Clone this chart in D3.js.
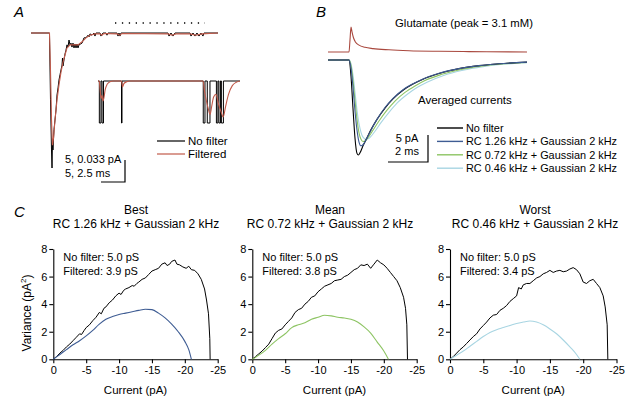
<!DOCTYPE html>
<html><head><meta charset="utf-8">
<script src="https://cdn.jsdelivr.net/npm/d3@7"></script>
<style>
html,body{margin:0;padding:0;background:#fff;}
svg{display:block;font-family:"Liberation Sans",Arial,sans-serif;}
</style></head>
<body>
<script>
// ---------- DATA ----------
// Panel A: main trace (time ms, current pA)
const aNoFilter = [[0,0],[3.85,0],[4.06,-15.2],[4.27,-26.6],[4.38,-30.7],[4.48,-24.3],[4.58,-26.6],[4.79,-22.0],[5.0,-19.8],[5.21,-17.5],[5.42,-14.1],[5.63,-12.5],[5.83,-10.7],[6.04,-9.5],[6.25,-8.4],[6.46,-7.3],[6.56,-5.7],[6.67,-7.5],[6.88,-6.1],[7.08,-4.8],[7.29,-3.9],[7.5,-2.7],[7.71,-3.2],[7.92,-1.6],[8.13,-2.7],[8.33,-2.3],[8.54,-3.2],[8.75,-2.3],[8.96,-3.4],[9.17,-2.5],[9.38,-3.4],[9.58,-2.5],[9.79,-3.4],[10.0,-2.7],[10.63,-2.3],[11.04,-1.1],[11.46,-1.1],[11.88,-0.5],[12.08,-0.9],[12.29,-0.2],[12.71,-0.5],[13.13,0],[13.33,-0.7],[13.54,0],[14.38,0],[14.58,-0.7],[15.0,0],[15.63,0],[15.83,-0.5],[16.04,0],[17.92,0],[18.13,-0.7],[18.33,0],[18.54,-0.7],[18.75,0],[28.54,0],[28.75,-0.7],[29.17,0],[29.58,-0.7],[30.0,0],[33.13,0],[33.33,-0.7],[33.75,0],[34.17,-0.7],[34.58,0],[35.0,-0.7],[35.42,0],[35.83,-0.7],[36.04,0],[38.96,0]];
const aFiltered = [[0,0],[3.85,0],[4.06,-8.4],[4.27,-19.6],[4.48,-25.5],[4.69,-23.9],[5.0,-19.8],[5.42,-15.2],[5.83,-11.8],[6.25,-8.9],[6.67,-6.6],[7.08,-5.0],[7.5,-3.4],[8.13,-2.7],[8.96,-2.7],[9.79,-2.7],[10.63,-2.0],[11.46,-1.1],[12.29,-0.5],[13.33,-0.2],[14.38,-0.2],[14.79,-0.5],[15.21,-0.1],[17.92,-0.2],[18.54,-0.5],[18.96,-0.1],[28.54,-0.2],[29.38,-0.5],[30.21,-0.2],[33.13,-0.2],[34.38,-0.5],[35.63,-0.2],[38.96,0]];
const aWindow = [17.5, 36.25];           // expanded window (ms, main trace)
// Inset: idealised openings (start, end ms), amplitude pA
const insetOpenings = [[0.14,0.31],[0.42,0.57],[2.45,2.5],[10.97,11.15],[11.39,11.67],[12.34,12.5],[12.6,12.76],[12.86,13.07]];
const insetAmp = -0.063;
const insetEnd = 14.8;
const insetFiltered = [[0,0],[0.12,0],[0.22,-0.012],[0.32,-0.026],[0.42,-0.022],[0.52,-0.03],[0.62,-0.025],[0.75,-0.013],[0.95,-0.005],[1.25,-0.001],[1.6,0],[2.45,0],[2.55,-0.009],[2.7,-0.004],[3.0,-0.001],[3.3,0],[10.95,0],[11.1,-0.015],[11.3,-0.03],[11.5,-0.042],[11.68,-0.05],[11.85,-0.038],[12.05,-0.024],[12.3,-0.02],[12.55,-0.034],[12.8,-0.045],[13.05,-0.054],[13.3,-0.038],[13.6,-0.02],[14.0,-0.007],[14.4,-0.002],[14.8,0]];
const aScale = {pA:5, ms:5, label1:"5, 0.033 pA", label2:"5, 2.5 ms"};

// Panel B: glutamate (mM) and averaged currents (pA) vs time (ms)
const glutamate = [[-1.05,0],[0,0],[0.05,1.5],[0.1,3.1],[0.15,2.5],[0.22,1.8],[0.32,1.25],[0.5,0.85],[0.8,0.58],[1.2,0.42],[2,0.27],[3,0.16],[4.5,0.09],[6,0.05],[8.9,0.0]];
const avgNoFilter = [[-1.05,0],[0,0],[0.1,-3],[0.2,-9],[0.3,-14.5],[0.4,-17.3],[0.47,-17.6],[0.55,-17.2],[0.7,-15.9],[0.9,-14.4],[1.1,-12.9],[1.4,-11.0],[1.8,-8.9],[2.2,-7.2],[2.7,-5.6],[3.2,-4.45],[3.7,-3.55],[4.5,-2.5],[5.5,-1.6],[6.5,-1.05],[7.5,-0.7],[8.9,-0.4]];
const avgRC126 = [[-1.05,0],[0,0],[0.1,-1.5],[0.2,-5],[0.3,-9.5],[0.4,-13],[0.5,-15.2],[0.6,-15.9],[0.7,-15.7],[0.85,-14.8],[1.1,-13.0],[1.4,-11.0],[1.8,-8.8],[2.2,-7.1],[2.7,-5.5],[3.2,-4.4],[3.7,-3.5],[4.5,-2.45],[5.5,-1.6],[6.5,-1.05],[7.5,-0.7],[8.9,-0.4]];
const avgRC072 = [[-1.05,0],[0,0],[0.1,-1],[0.2,-3.8],[0.3,-7.5],[0.4,-11],[0.5,-13.5],[0.6,-14.7],[0.7,-15.1],[0.8,-15.0],[0.95,-14.4],[1.2,-13.0],[1.5,-11.3],[1.9,-9.3],[2.3,-7.6],[2.8,-6.0],[3.3,-4.8],[3.8,-3.8],[4.6,-2.7],[5.6,-1.75],[6.6,-1.15],[7.6,-0.75],[8.9,-0.45]];
const avgRC046 = [[-1.05,0],[0,0],[0.1,-0.7],[0.2,-2.8],[0.3,-6],[0.4,-9.3],[0.5,-11.8],[0.6,-13.4],[0.7,-14.3],[0.85,-14.7],[1.0,-14.5],[1.3,-13.2],[1.6,-11.6],[2.0,-9.7],[2.4,-8.0],[2.9,-6.4],[3.4,-5.1],[3.9,-4.1],[4.7,-2.9],[5.7,-1.9],[6.7,-1.25],[7.7,-0.8],[8.9,-0.5]];
const bLegend = ["No filter","RC 1.26 kHz + Gaussian 2 kHz","RC 0.72 kHz + Gaussian 2 kHz","RC 0.46 kHz + Gaussian 2 kHz"];
const bScale = {pA:5, ms:2};

// Panel C: variance (pA^2) vs mean current (pA)
const cTitles = [["Best","RC 1.26 kHz + Gaussian 2 kHz"],["Mean","RC 0.72 kHz + Gaussian 2 kHz"],["Worst","RC 0.46 kHz + Gaussian 2 kHz"]];
const cNoFilterG = ["5.0","5.0","5.0"];
const cFilteredG = ["3.9","3.8","3.4"];
const cTicksX = [0,-5,-10,-15,-20,-25];
const cTicksY = [0,2,4,6,8];
const varNoFilter1 = [[0,0],[-0.5,0.2],[-1,0.45],[-1.5,0.65],[-2,0.9],[-2.5,1.1],[-3,1.35],[-3.5,1.6],[-4,1.85],[-4.3,1.8],[-4.7,2.1],[-5,2.3],[-5.5,2.5],[-6,2.8],[-6.5,3.05],[-7,3.4],[-7.3,3.3],[-7.7,3.7],[-8,3.8],[-8.5,4.1],[-9,4.3],[-9.5,4.6],[-10,4.8],[-10.3,4.7],[-10.7,5.0],[-11,5.1],[-11.5,5.2],[-12,5.35],[-12.3,5.3],[-12.7,5.5],[-13,5.6],[-13.5,5.8],[-14,5.9],[-14.5,6.15],[-15,6.4],[-15.5,6.5],[-16,6.6],[-16.5,6.9],[-17,7.0],[-17.3,6.8],[-17.7,6.9],[-18,7.1],[-18.5,7.2],[-18.8,6.9],[-19.2,6.85],[-19.7,6.7],[-20.2,6.6],[-20.6,6.75],[-21,6.5],[-21.5,6.45],[-22,6.2],[-22.5,5.8],[-23,5.1],[-23.3,4.3],[-23.6,3.3],[-23.8,1.5],[-23.85,0]];
const varFiltered1 = [[0,0],[-1,0.35],[-2,0.7],[-3,1.05],[-4,1.35],[-5,1.7],[-6,2.1],[-7,2.55],[-8,2.9],[-9,3.1],[-10,3.25],[-11,3.35],[-12,3.45],[-13,3.55],[-14,3.63],[-15,3.6],[-16,3.35],[-17,3.0],[-18,2.55],[-19,2.0],[-20,1.3],[-20.6,0.7],[-21,0]];
const varNoFilter2 = [[0,0],[-0.5,0.2],[-1,0.4],[-1.5,0.6],[-2,0.85],[-2.5,1.1],[-3,1.5],[-3.5,1.9],[-4,2.1],[-4.5,2.2],[-5,2.5],[-5.5,2.75],[-6,3.0],[-6.5,3.4],[-7,3.6],[-7.5,3.7],[-8,4.0],[-8.5,4.2],[-9,4.5],[-9.5,4.6],[-10,4.9],[-10.5,5.1],[-11,5.3],[-11.5,5.4],[-12,5.5],[-12.5,5.7],[-13,5.75],[-13.5,5.8],[-14,6.0],[-14.5,6.1],[-15,6.3],[-15.5,6.5],[-16,6.6],[-16.5,6.85],[-17,6.8],[-17.5,6.9],[-18,6.6],[-18.5,6.9],[-19,7.2],[-19.5,7.0],[-20,6.85],[-20.5,6.6],[-21,6.3],[-21.5,6.0],[-22,5.7],[-22.5,5.2],[-23,4.5],[-23.3,3.7],[-23.5,2.5],[-23.6,0]];
const varFiltered2 = [[0,0],[-1,0.3],[-2,0.65],[-3,1.1],[-4,1.5],[-5,1.85],[-6,2.3],[-7,2.5],[-8,2.65],[-9,2.9],[-10,3.05],[-11,3.2],[-12,3.15],[-13,3.05],[-14,3.0],[-15,2.9],[-16,2.7],[-17,2.35],[-18,1.9],[-19,1.25],[-20,0.6],[-20.7,0]];
const varNoFilter3 = [[0,0],[-0.5,0.2],[-1,0.45],[-1.5,0.7],[-2,0.9],[-2.5,1.15],[-3,1.4],[-3.5,1.65],[-4,1.85],[-4.5,2.2],[-5,2.45],[-5.5,2.7],[-6,3.0],[-6.5,3.2],[-7,3.25],[-7.5,3.55],[-8,3.7],[-8.5,3.9],[-9,4.2],[-9.5,4.4],[-10,4.6],[-10.3,5.2],[-10.7,5.1],[-11,5.4],[-11.5,5.5],[-12,5.5],[-12.5,5.7],[-13,5.9],[-13.5,6.0],[-14,6.2],[-14.5,6.3],[-15,6.45],[-15.5,6.3],[-16,6.4],[-16.5,6.45],[-17,6.35],[-17.5,6.4],[-18,6.55],[-18.5,6.65],[-19,6.5],[-19.5,6.2],[-20,5.6],[-20.5,5.5],[-21,5.7],[-21.5,5.8],[-22,5.5],[-22.5,5.2],[-23,4.6],[-23.3,3.8],[-23.6,2.5],[-23.7,0]];
const varFiltered3 = [[0,0],[-1,0.3],[-2,0.6],[-3,0.95],[-4,1.3],[-5,1.65],[-6,1.95],[-7,2.15],[-8,2.3],[-9,2.45],[-10,2.6],[-11,2.7],[-12,2.78],[-13,2.7],[-14,2.5],[-15,2.2],[-16,1.85],[-17,1.4],[-18,0.9],[-19,0.35],[-19.5,0]];

// ---------- STYLE ----------
const RED = "#c25a4a", GLU = "#a9483e";
const COLS = ["#000000","#3e5c93","#8dc463","#a8d5e2"];

const W = 644, H = 409;
const svg = d3.select("body").append("svg").attr("width", W).attr("height", H);

function txt(x, y, s, o = {}) {
  return svg.append("text").attr("x", x).attr("y", y)
    .attr("font-size", o.size || 12).attr("text-anchor", o.anchor || "start")
    .attr("font-style", o.italic ? "italic" : null)
    .attr("fill", "#000").text(s);
}

// ---------- PANEL A ----------
txt(14, 17, "A", {size: 15, italic: true});
const ax = d3.scaleLinear().domain([0, 38.96]).range([31, 218]);
const ay = d3.scaleLinear().domain([0, -30.7]).range([33, 168]);
const aPath = (data, sx, sy) => d3.line().x(d => sx(d[0])).y(d => sy(d[1]))(data);
svg.append("path").attr("d", aPath(aNoFilter, ax, ay)).attr("fill", "none").attr("stroke", "#000").attr("stroke-width", 1);
svg.append("path").attr("d", aPath(aFiltered, ax, ay)).attr("fill", "none").attr("stroke", RED).attr("stroke-width", 1.1);
// dotted window marker
svg.append("line").attr("x1", ax(aWindow[0])).attr("x2", ax(aWindow[1])).attr("y1", 23).attr("y2", 23)
  .attr("stroke", "#000").attr("stroke-width", 1.4).attr("stroke-dasharray", "1.3,5.6");
// inset
const ix = d3.scaleLinear().domain([0, insetEnd]).range([98, 240]);
const iy = d3.scaleLinear().domain([0, insetAmp]).range([81, 123]);
const insetSteps = [[0, 0]];
insetOpenings.forEach(([s, e]) => { insetSteps.push([s, 0], [s, insetAmp], [e, insetAmp], [e, 0]); });
insetSteps.push([insetEnd, 0]);
svg.append("path").attr("d", aPath(insetSteps, ix, iy)).attr("fill", "none").attr("stroke", "#000").attr("stroke-width", 1);
svg.append("path").attr("d", d3.line().x(d => ix(d[0])).y(d => iy(d[1])).curve(d3.curveMonotoneX)(insetFiltered))
  .attr("fill", "none").attr("stroke", RED).attr("stroke-width", 1.1);
// legend A
[["No filter", "#000"], ["Filtered", RED]].forEach((d, i) => {
  const y = 141 + i * 13;
  svg.append("line").attr("x1", 157).attr("x2", 185).attr("y1", y).attr("y2", y).attr("stroke", d[1]).attr("stroke-width", 1.2);
  txt(188, y + 4, d[0], {size: 11.5});
});
// scale bar A
{
  const bx = 125, by = 182;
  const hw = ax(aScale.ms) - ax(0), vh = ay(-aScale.pA) - ay(0);
  svg.append("path").attr("d", `M${bx - hw},${by}H${bx}V${by - vh}`).attr("fill", "none").attr("stroke", "#000").attr("stroke-width", 1.2);
  txt(65, 163, aScale.label1, {size: 11});
  txt(65, 177, aScale.label2, {size: 11});
}

// ---------- PANEL B ----------
txt(316, 17, "B", {size: 15, italic: true});
const bx = d3.scaleLinear().domain([-1.05, 8.9]).range([328, 527]);
const by = d3.scaleLinear().domain([0, -17.6]).range([60, 155]);
const gy = d3.scaleLinear().domain([0, 3.1]).range([52, 27]);
txt(464, 27, "Glutamate (peak = 3.1 mM)", {size: 11.3, anchor: "middle"});
svg.append("path").attr("d", d3.line().x(d => bx(d[0])).y(d => gy(d[1])).curve(d3.curveMonotoneX)(glutamate))
  .attr("fill", "none").attr("stroke", GLU).attr("stroke-width", 1.1);
const avg = [avgNoFilter, avgRC126, avgRC072, avgRC046];
const bLine = d3.line().x(d => bx(d[0])).y(d => by(d[1])).curve(d3.curveMonotoneX);
[3, 2, 0, 1].forEach(i => {
  svg.append("path").attr("d", bLine(avg[i])).attr("fill", "none").attr("stroke", COLS[i]).attr("stroke-width", 1.1);
});
txt(418, 104, "Averaged currents", {size: 11.5});
bLegend.forEach((s, i) => {
  const y = 128 + i * 13.4;
  svg.append("line").attr("x1", 437).attr("x2", 463).attr("y1", y).attr("y2", y).attr("stroke", COLS[i]).attr("stroke-width", 1.4);
  txt(466, y + 4, s, {size: 10.9});
});
{
  const x0 = 428, y0 = 162;
  const hw = bx(bScale.ms) - bx(0), vh = by(-bScale.pA) - by(0);
  svg.append("path").attr("d", `M${x0 - hw},${y0}H${x0}V${y0 - vh}`).attr("fill", "none").attr("stroke", "#000").attr("stroke-width", 1.2);
  txt(407, 141.5, "5 pA", {size: 11, anchor: "middle"});
  txt(407, 155, "2 ms", {size: 11, anchor: "middle"});
}

// ---------- PANEL C ----------
txt(14, 217, "C", {size: 15, italic: true});
const cPanels = [
  {x0: 53.3, x1: 217.7, tx: 136, nf: varNoFilter1, f: varFiltered1, col: COLS[1]},
  {x0: 252.3, x1: 416.7, tx: 330, nf: varNoFilter2, f: varFiltered2, col: COLS[2]},
  {x0: 450, x1: 616.5, tx: 535, nf: varNoFilter3, f: varFiltered3, col: COLS[3]},
];
cPanels.forEach((p, k) => {
  const sx = d3.scaleLinear().domain([0, -25]).range([p.x0, p.x1]);
  const sy = d3.scaleLinear().domain([0, 8]).range([359.3, 249]);
  txt(p.tx, 214, cTitles[k][0], {size: 12, anchor: "middle"});
  txt(p.tx, 228, cTitles[k][1], {size: 12, anchor: "middle"});
  const gx = svg.append("g").attr("transform", `translate(0,${sy(0)})`)
    .call(d3.axisBottom(sx).tickValues(cTicksX).tickSize(4).tickSizeOuter(0).tickPadding(3).tickFormat(d => d === 0 ? "0" : String(d)));
  const gy2 = svg.append("g").attr("transform", `translate(${sx(0)},0)`)
    .call(d3.axisLeft(sy).tickValues(cTicksY).tickSize(4).tickSizeOuter(0).tickPadding(2));
  [gx, gy2].forEach(g => {
    g.selectAll("text").attr("font-size", 11).attr("font-family", "Liberation Sans, Arial, sans-serif").attr("fill", "#000");
    g.select(".domain").attr("stroke", "#000").attr("stroke-width", 1.1);
    g.selectAll(".tick line").attr("stroke", "#000").attr("stroke-width", 1.1);
  });
  svg.append("path").attr("d", d3.line().x(d => sx(d[0])).y(d => sy(d[1]))(p.nf)).attr("fill", "none").attr("stroke", "#000").attr("stroke-width", 1);
  svg.append("path").attr("d", d3.line().x(d => sx(d[0])).y(d => sy(d[1])).curve(d3.curveMonotoneX)(p.f)).attr("fill", "none").attr("stroke", p.col).attr("stroke-width", 1.1);
  txt(sx(0) + 10, 261, `No filter: ${cNoFilterG[k]} pS`, {size: 11});
  txt(sx(0) + 10, 275, `Filtered: ${cFilteredG[k]} pS`, {size: 11});
  txt((p.x0 + p.x1) / 2, 394, "Current (pA)", {size: 11.5, anchor: "middle"});
});
// y label
{
  const t = svg.append("text").attr("transform", "translate(31,313) rotate(-90)")
    .attr("text-anchor", "middle").attr("font-size", 12).attr("fill", "#000");
  t.append("tspan").text("Variance (pA");
  t.append("tspan").attr("font-size", 8).attr("dy", -5).text("2");
  t.append("tspan").attr("dy", 5).text(")");
}
</script>
</body></html>
